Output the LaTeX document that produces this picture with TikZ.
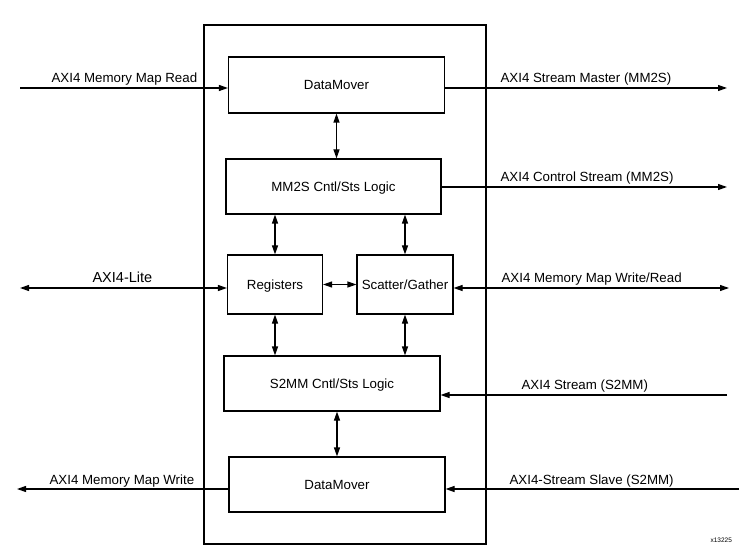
\documentclass[tikz,border=0pt]{standalone}
\usepackage{fontspec}
\setmainfont{Liberation Sans}
\usetikzlibrary{arrows.meta}

\begin{document}
\begin{tikzpicture}[x=1pt,y=-1pt,line width=1.15pt,
    every node/.style={font=\fontsize{13.3}{16}\selectfont},
    blk/.style={draw,inner sep=0pt,text height=9.6pt,text depth=0pt},
    lbl/.style={inner sep=0pt,anchor=base west},
    arr/.style={-{Triangle[length=9pt,width=6pt]}},
    dbl/.style={{Triangle[length=9pt,width=6pt]}-{Triangle[length=9pt,width=6pt]}}]
    \useasboundingbox (0,0) rectangle (749,553);
    % outer frame
    \draw (204,25) rectangle (486,544);
    % blocks
    \node[blk,minimum width=216pt,minimum height=56pt] (dm1) at (336.5,85) {DataMover};
    \node[blk,minimum width=215pt,minimum height=55pt] (mm2s) at (333.5,186.5) {MM2S Cntl/Sts Logic};
    \node[blk,minimum width=95pt,minimum height=59pt] (reg) at (275,284.5) {Registers};
    \node[blk,minimum width=96pt,minimum height=59pt] (sg) at (405,284.5) {Scatter/Gather};
    \node[blk,minimum width=216pt,minimum height=55pt] (s2mm) at (332,383.5) {S2MM Cntl/Sts Logic};
    \node[blk,minimum width=216pt,minimum height=55pt] (dm2) at (337,484.5) {DataMover};
    % inside connections
    \draw[dbl] (dm1.south) -- (dm1.south |- mm2s.north);
    \draw[dbl] (reg.north) -- (reg.north |- mm2s.south);
    \draw[dbl] (sg.north) -- (sg.north |- mm2s.south);
    \draw[dbl] (reg.east) -- (sg.west);
    \draw[dbl] (reg.south) -- (reg.south |- s2mm.north);
    \draw[dbl] (sg.south) -- (sg.south |- s2mm.north);
    \draw[dbl] (dm2.north) -- (dm2.north |- s2mm.south);
    % outside ports
    \coordinate (mmr) at (20,88);
    \coordinate (mms) at (727,88);
    \coordinate (cs) at (727,187);
    \coordinate (lite) at (20,288);
    \coordinate (mmwr) at (729,288);
    \coordinate (sin) at (727,395);
    \coordinate (mmw) at (17,489);
    \coordinate (ss) at (739,489);
    \draw[arr] (mmr) -- (mmr -| dm1.west);
    \draw[arr] (mms -| dm1.east) -- (mms);
    \draw[arr] (cs -| mm2s.east) -- (cs);
    \draw[dbl] (lite) -- (lite -| reg.west);
    \draw[dbl] (mmwr -| sg.east) -- (mmwr);
    \draw[arr] (sin) -- (sin -| s2mm.east);
    \draw[arr] (mmw -| dm2.west) -- (mmw);
    \draw[arr] (ss) -- (ss -| dm2.east);
    % labels
    \node[lbl] (lmmr) at (51,83) {AXI4 Memory Map Read};
    \node[lbl] (lmms) at (500,83) {AXI4 Stream Master (MM2S)};
    \node[lbl] (lcs) at (500,182) {AXI4 Control Stream (MM2S)};
    \node[lbl,font=\fontsize{14.5}{17}\selectfont] (llite) at (92,283) {AXI4-Lite};
    \node[lbl] (lmmwr) at (501,283) {AXI4 Memory Map Write/Read};
    \node[lbl] (lsin) at (521,389.5) {AXI4 Stream (S2MM)};
    \node[lbl] (lmmw) at (49,484) {AXI4 Memory Map Write};
    \node[lbl] (lss) at (509,484) {AXI4-Stream Slave (S2MM)};
    \node[lbl,font=\fontsize{6.5}{8}\selectfont] (fig) at (710,542) {x13225};
\end{tikzpicture}
\end{document}
